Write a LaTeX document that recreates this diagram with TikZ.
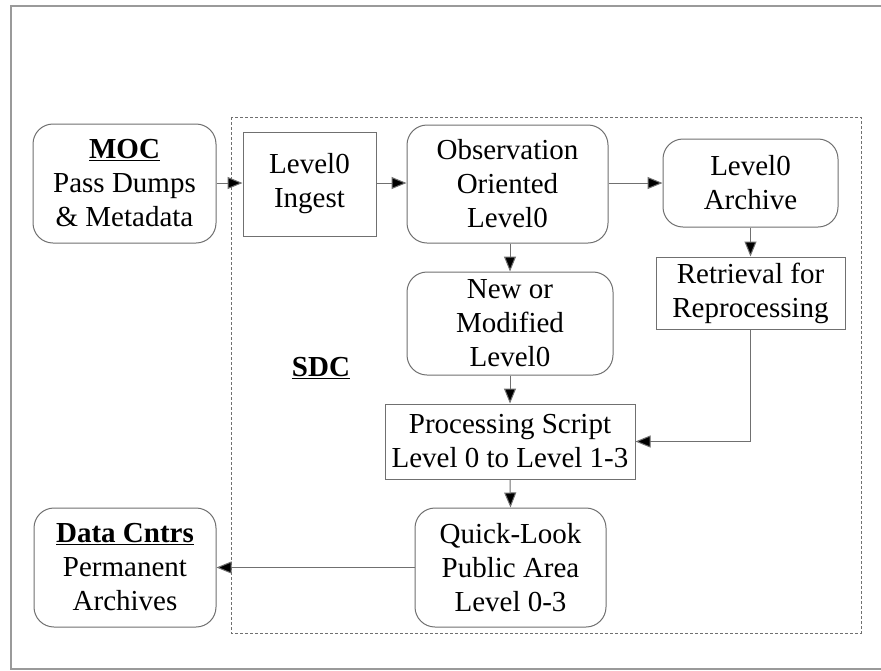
\documentclass[tikz,border=0pt]{standalone}
\usepackage{fontspec}
\setmainfont{Liberation Serif}
\usetikzlibrary{arrows.meta}
\definecolor{linegray}{HTML}{707070}
\definecolor{framegray}{HTML}{9A9A9A}
\tikzset{
  base/.style={draw=linegray, line width=1pt, align=center, inner sep=0pt,
    font=\fontsize{29}{34}\selectfont, text=black},
  rbox/.style={base, rounded corners=20pt},
  sbox/.style={base},
  conn/.style={draw=linegray, line width=1pt, -{Triangle[length=15pt,width=12pt,fill=black]}},
}
\begin{document}
\begin{tikzpicture}[x=1pt,y=-1pt]
\useasboundingbox (0,0) rectangle (881,670);
\fill[white] (0,0) rectangle (881,670);
% outer frame
\draw[framegray, line width=2.2pt] (895,6) -- (11,6) -- (11,669) -- (895,669);
% SDC dashed region
\draw[linegray, line width=0.8pt, dash pattern=on 3pt off 2pt] (231,117) rectangle (861,633);
\node[font=\fontsize{29}{34}\selectfont\bfseries] (sdc) at (321,368) {\underline{SDC}};

\node[rbox, minimum width=183pt, minimum height=119pt] (moc) at (124.5,183.5)
  {\underline{\textbf{MOC}}\\Pass Dumps\\\& Metadata};
\node[sbox, minimum width=133pt, minimum height=104pt] (ingest) at (309.5,184)
  {Level0\\Ingest};
\node[rbox, minimum width=201pt, minimum height=118pt] (obs) at (507.5,184)
  {Observation\\Oriented\\Level0};
\node[rbox, minimum width=175pt, minimum height=88pt] (arch) at (750.5,183)
  {Level0\\Archive};
\node[sbox, minimum width=189pt, minimum height=72pt] (retr) at (750.5,293)
  {Retrieval for\\Reprocessing};
\node[rbox, minimum width=206pt, minimum height=103pt] (newmod) at (510,323.5)
  {New or\\Modified\\Level0};
\node[sbox, minimum width=250pt, minimum height=75pt] (proc) at (510,441.5)
  {Processing Script\\Level 0 to Level 1-3};
\node[rbox, minimum width=191pt, minimum height=119pt] (quick) at (510.5,567.5)
  {Quick-Look\\Public Area\\Level 0-3};
\node[rbox, minimum width=182pt, minimum height=119pt] (data) at (125,567.5)
  {\underline{\textbf{Data Cntrs}}\\Permanent\\Archives};

\draw[conn] (moc.east |- 0,183) -- (ingest.west |- 0,183);
\draw[conn] (ingest.east |- 0,183) -- (obs.west |- 0,183);
\draw[conn] (obs.east |- 0,183) -- (arch.west |- 0,183);
\draw[conn] (obs.south -| newmod.north) -- (newmod.north);
\draw[conn] (arch.south) -- (retr.north);
\draw[conn] (newmod.south) -- (proc.north);
\draw[conn] (retr.south) |- (proc.east);
\draw[conn] (proc.south) -- (quick.north);
\draw[conn] (quick.west) -- (data.east);
\end{tikzpicture}
\end{document}
